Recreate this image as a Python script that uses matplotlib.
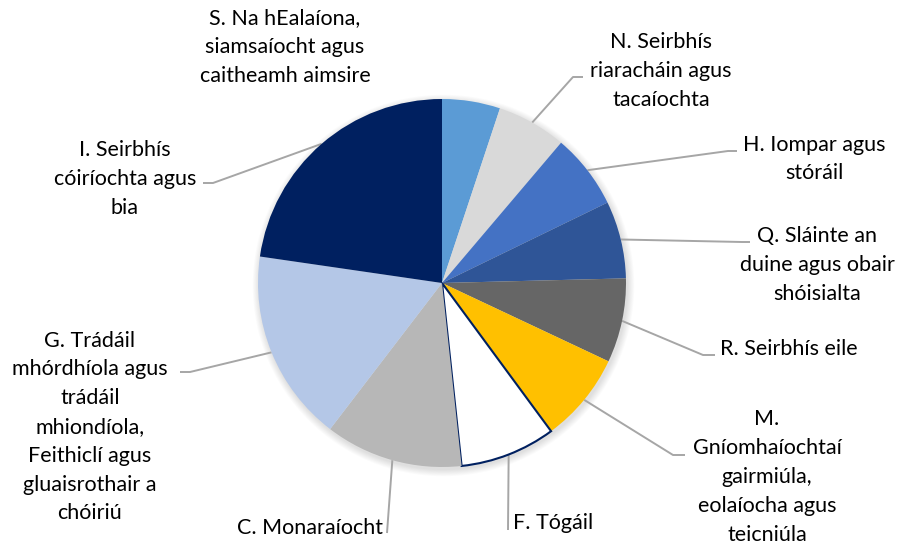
import matplotlib.pyplot as plt
from matplotlib.patches import Circle
import numpy as np

plt.rcParams['font.family'] = ['Lato', 'DejaVu Sans']

# slices, clockwise from 12 o'clock
labels = [
    "S. Na hEalaíona,\nsiamsaíocht agus\ncaitheamh aimsire",
    "N. Seirbhís\nriaracháin agus\ntacaíochta",
    "H. Iompar agus\nstóráil",
    "Q. Sláinte an\nduine agus obair\nshóisialta",
    "R. Seirbhís eile",
    "M.\nGníomhaíochtaí\ngairmiúla,\neolaíocha agus\nteicniúla",
    "F. Tógáil",
    "C. Monaraíocht",
    "G. Trádáil\nmhórdhíola agus\ntrádáil\nmhiondíola,\nFeithiclí agus\ngluaisrothair a\nchóiriú",
    "I. Seirbhís\ncóiríochta agus\nbia",
]
values = [5.1, 6.1, 6.6, 6.8, 7.4, 7.9, 8.4, 12.1, 16.9, 22.7]
colors = ['#5B9BD5', '#D9D9D9', '#4472C4', '#2F5597', '#666666',
          '#FFC000', '#FFFFFF', '#B7B7B7', '#B4C7E7', '#002060']

# label layout in image pixels (y from top): text x, text y, alignment, leader elbow, leader end
text_pos = [(285, 47, 'center'), (661, 71, 'center'), (814, 159, 'center'),
            (817, 265, 'center'), (720, 349, 'left'), (767, 477, 'center'),
            (513, 523, 'left'), (383, 528, 'right'), (90, 427, 'center'),
            (125, 179, 'center')]
leaders = [None, ((573, 77), (583, 77)), ((728, 151), (737, 151)),
           ((742, 242), (750, 242)), ((703, 355), (715, 355)),
           ((673, 455), (685, 455)), ((508, 530), (508, 530)),
           ((387, 533), (387, 533)), ((190, 372), (180, 372)),
           ((213, 183), (203, 183))]

H = 550
fig = plt.figure(figsize=(9, 5.5), dpi=100)
ax = fig.add_axes([0, 0, 1, 1])

cx, cy, r = 442, H - 283, 184

# soft shadow round the pie
for i in range(8):
    ax.add_patch(Circle((cx + 1.5, cy - 2.5), r + 0.5 + i * 0.9,
                        color='black', alpha=0.015, lw=0, zorder=0))

wedges, _ = ax.pie(values, colors=colors, startangle=90, counterclock=False,
                   center=(cx, cy), radius=r, wedgeprops=dict(linewidth=0))
wedges[6].set_edgecolor('#002060')
wedges[6].set_linewidth(1.5)
for w in wedges:
    w.set_zorder(2)

ax.set_xlim(0, 900)
ax.set_ylim(0, H)
ax.set_aspect('equal')
ax.axis('off')

for w, lab, (tx, ty, ha), ld in zip(wedges, labels, text_pos, leaders):
    if ld is not None:
        a = np.deg2rad((w.theta1 + w.theta2) / 2)
        x0, y0 = cx + r * np.cos(a), cy + r * np.sin(a)
        (ex, ey), (fx, fy) = ld
        ax.plot([x0, ex, fx], [y0, H - ey, H - fy], color='#A6A6A6',
                lw=1.4, solid_capstyle='butt', zorder=1)
    ax.text(tx, H - ty, lab, ha=ha, va='center', multialignment='center',
            fontsize=15.5, color='#000000', linespacing=1.55)

fig.savefig('out.png', dpi=100, facecolor='white')
